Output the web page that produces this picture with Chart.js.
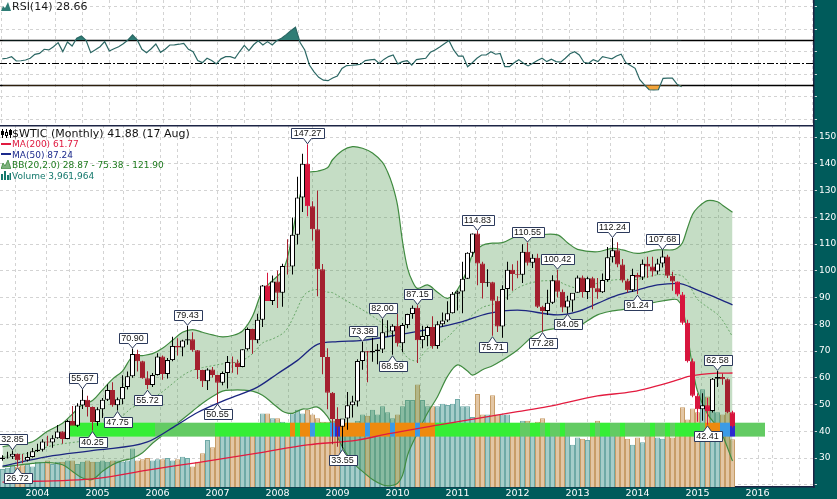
<!DOCTYPE html>
<html>
<head>
<meta charset="utf-8">
<title>$WTIC (Monthly)</title>
<script src="https://cdn.jsdelivr.net/npm/chart.js@4.4.1/dist/chart.umd.min.js"></script>
<style>
  html, body { margin:0; padding:0; background:#005b5b; }
  #wrap { position:relative; width:837px; height:499px; overflow:hidden; background:#005b5b; }
  canvas { position:absolute; left:0; display:block; }
  #rsi { top:0; }
  #main { top:125px; }
  .lg { position:absolute; font-family:"DejaVu Sans", Verdana, sans-serif; white-space:nowrap; }
  .big { font-size:11px; line-height:11px; }
  .sm { font-size:9px; line-height:10px; }
  .ic { position:absolute; display:block; }
</style>
</head>
<body>
<div id="wrap">
  <canvas id="rsi" width="837" height="125"></canvas>
  <canvas id="main" width="837" height="374"></canvas>

  <svg class="ic" style="left:1px;top:2px" width="10" height="9"><polygon points="0,9 2,4 4,6 7,0 10,9" fill="#2e7c75"/></svg>
  <div class="lg big" style="left:12px;top:1px;color:#1a1a1a">RSI(14) 28.66</div>

  <svg class="ic" style="left:1px;top:129px" width="11" height="9">
    <path d="M1.5 0V9M5.5 0V9M9.5 0V9" stroke="#000" stroke-width="1"/>
    <rect x="0" y="2" width="3" height="4" fill="#000"/>
    <rect x="4.5" y="3.5" width="2" height="3" fill="#fff" stroke="#000"/>
    <rect x="8" y="1" width="3" height="5" fill="#000"/>
  </svg>
  <div class="lg big" style="left:12px;top:128px;color:#111">$WTIC (Monthly) 41.88 (17 Aug)</div>

  <svg class="ic" style="left:1px;top:143px" width="10" height="2"><rect width="10" height="2" fill="#e01a40"/></svg>
  <div class="lg sm" style="left:12px;top:139px;color:#e01a40">MA(200) 61.77</div>

  <svg class="ic" style="left:1px;top:153px" width="10" height="2"><rect width="10" height="2" fill="#1c2a8c"/></svg>
  <div class="lg sm" style="left:12px;top:149.5px;color:#1c2a8c">MA(50) 87.24</div>

  <svg class="ic" style="left:1px;top:160px" width="10" height="9"><polygon points="0,9 2,3 4,6 7,0 10,9" fill="#7fb27f" stroke="#3f8a3f" stroke-width="0.8"/></svg>
  <div class="lg sm" style="left:12px;top:160px;color:#1d7a1d">BB(20,2.0) 28.87 - 75.38 - 121.90</div>

  <svg class="ic" style="left:1px;top:171px" width="10" height="9">
    <rect x="0" y="3" width="2" height="6" fill="#13786c"/><rect x="3" y="0" width="2" height="9" fill="#13786c"/>
    <rect x="6" y="4" width="2" height="5" fill="#13786c"/><rect x="8.5" y="2" width="1.5" height="7" fill="#13786c"/>
  </svg>
  <div class="lg sm" style="left:12px;top:170.5px;color:#13786c">Volume 3,961,964</div>
</div>

<script>
// ---------------- DATA ----------------
// monthly bars, Jun 2003 .. Aug 2015 (month offset relative to Jan 2004 = 0)
const FIRST_MONTH = -7;
const yearLabels = ['2004','2005','2006','2007','2008','2009','2010','2011','2012','2013','2014','2015','2016'];

const open = [29.6,30.2,30.5,31.6,29.2,29.1,30.4,
 32.5,33.05,36.2,35.8,37.4,39.9,37.1,43.8,42.1,49.6,51.8,49.1,
 43.45,48.2,51.75,55.4,49.7,51.97,56.5,60.6,68.9,66.2,59.8,57.3,
 61.0,67.9,61.4,66.6,71.9,71.3,73.9,74.4,70.3,62.9,58.7,63.1,
 61.05,58.1,61.8,65.9,65.7,64.0,70.7,78.2,74.0,81.7,94.5,88.7,
 95.98,91.75,101.8,101.6,113.5,127.35,140.0,124.1,115.5,100.6,67.8,54.4,
 44.6,41.7,44.8,49.7,51.1,66.3,69.9,69.45,69.96,70.6,77.0,77.3,
 79.4,72.9,79.7,83.8,86.15,74.0,75.6,78.95,71.9,79.97,81.4,84.1,
 91.4,92.2,96.97,106.7,113.9,102.7,95.4,95.7,88.8,79.2,93.2,100.4,
 98.8,98.5,107.1,103.0,104.9,86.5,84.96,88.06,96.47,92.19,86.24,88.91,
 91.82,97.49,92.05,97.23,93.46,91.97,96.56,105.03,107.65,102.33,96.38,92.72,
 98.42,97.49,102.59,101.58,99.74,102.71,105.37,98.17,95.96,91.16,80.54,66.15,
 53.27,48.24,49.76,47.6,59.63,60.3,59.47,47.12];
const high = [31.0,32.3,32.85,31.7,31.5,32.2,33.7,
 35.3,37.0,38.3,38.5,42.3,40.0,44.3,49.4,50.5,55.67,53.3,49.3,
 49.0,52.4,57.6,58.3,52.6,60.95,62.3,70.9,70.5,66.4,62.4,61.8,
 69.2,68.3,67.4,75.35,74.8,74.2,79.43,77.0,70.4,63.0,63.6,64.0,
 61.1,62.3,68.1,67.9,66.8,70.7,78.8,78.3,83.9,94.7,99.3,98.2,
 100.1,102.6,111.8,119.9,135.1,143.7,147.27,126.0,130.0,102.5,71.0,54.7,
 49.0,43.8,54.7,53.3,66.9,73.38,70.0,75.0,72.6,82.0,81.5,80.0,
 83.95,80.5,83.95,87.0,87.15,79.4,79.4,83.0,81.1,84.4,88.6,92.06,
 92.6,103.4,106.9,113.9,114.83,103.4,100.6,95.9,90.5,94.6,103.4,102.4,
 103.7,109.9,110.55,106.2,106.4,86.9,92.9,98.3,100.42,93.0,90.7,91.5,
 98.2,98.2,97.8,97.8,97.3,99.0,108.9,112.24,110.7,104.4,97.0,100.75,
 99.3,104.2,105.2,105.2,104.5,107.68,106.0,99.6,96.0,92.1,81.7,67.2,
 54.2,54.2,52.5,59.9,62.58,61.6,59.7,47.7];
const low = [29.0,29.8,29.6,26.72,28.0,28.7,30.2,
 32.2,32.4,34.5,33.8,37.2,35.3,37.0,42.3,41.6,48.3,45.5,40.25,
 42.1,45.0,51.3,49.2,47.75,50.1,55.6,60.0,62.3,59.6,55.72,56.5,
 60.8,59.3,59.7,66.2,68.3,68.0,72.3,69.7,59.5,56.55,55.4,60.1,
 50.55,57.2,56.0,61.9,61.2,63.9,70.2,69.0,72.9,79.0,88.8,87.2,
 86.1,86.5,98.6,98.6,109.8,122.0,120.4,111.3,90.5,61.3,48.2,35.1,
 34.2,33.55,40.6,45.1,49.3,63.0,58.3,66.0,65.05,69.3,75.2,68.59,
 71.7,69.5,78.5,82.1,65.5,71.0,71.8,70.8,70.8,79.1,80.8,84.0,
 85.1,84.1,96.9,105.2,94.6,89.6,94.0,75.71,77.1,74.95,89.2,92.5,
 97.2,95.4,102.0,101.0,86.1,77.28,83.5,87.6,90.0,84.5,84.05,84.7,
 91.8,90.0,89.4,85.6,89.5,91.7,95.9,103.1,101.3,95.6,91.8,92.1,
 91.24,96.5,97.4,97.9,98.6,101.2,97.3,92.5,90.5,79.8,65.7,52.7,
 43.58,43.9,42.41,47.0,56.5,57.4,46.7,41.4];
const close = [30.2,30.5,31.6,29.2,29.1,30.4,32.5,
 33.05,36.2,35.8,37.4,39.9,37.1,43.8,42.1,49.6,51.8,49.1,43.45,
 48.2,51.75,55.4,49.7,51.97,56.5,60.6,68.9,66.2,59.8,57.3,61.0,
 67.9,61.4,66.6,71.9,71.3,73.9,74.4,70.3,62.9,58.7,63.1,61.05,
 58.1,61.8,65.9,65.7,64.0,70.7,78.2,74.0,81.7,94.5,88.7,95.98,
 91.75,101.8,101.6,113.5,127.35,140.0,124.1,115.5,100.6,67.8,54.4,44.6,
 41.7,44.8,49.7,51.1,66.3,69.9,69.45,69.96,70.6,77.0,77.3,79.4,
 72.9,79.7,83.8,86.15,74.0,75.6,78.95,71.9,79.97,81.4,84.1,91.4,
 92.2,96.97,106.7,113.9,102.7,95.4,95.7,88.8,79.2,93.2,100.4,98.8,
 98.5,107.1,103.0,104.9,86.5,84.96,88.06,96.47,92.19,86.24,88.91,91.82,
 97.49,92.05,97.23,93.46,91.97,96.56,105.03,107.65,102.33,96.38,92.72,98.42,
 97.49,102.59,101.58,99.74,102.71,105.37,98.17,95.96,91.16,80.54,66.15,53.27,
 48.24,49.76,47.6,59.63,60.3,59.47,47.12,41.88];
// volume, millions
const volume = [1.5,1.6,1.8,1.7,1.8,1.9,1.7,
 2.1,2.1,2.2,1.9,2.1,2.1,2.2,2.2,1.9,2.1,2.2,2.1,
 2.1,2.2,2.1,2.2,2.2,2.1,2.2,3.2,2.2,2.3,2.4,2.2,
 2.3,2.3,2.4,2.2,2.3,2.5,2.4,1.7,2.1,2.8,3.9,3.3,
 5.3,5.0,4.9,5.2,5.0,4.8,5.3,4.9,5.1,6.1,6.1,5.7,
 5.7,5.4,5.3,6.1,6.4,6.1,6.4,6.0,5.7,5.4,5.4,5.5,
 5.4,5.3,5.0,5.3,5.5,6.0,5.9,6.4,6.0,6.7,6.2,5.7,
 6.0,6.7,7.2,7.2,8.5,7.2,6.7,6.7,6.7,6.9,6.8,6.9,
 7.3,6.7,6.7,5.8,7.7,6.0,6.0,7.6,6.0,6.0,6.0,4.6,
 5.2,5.5,5.5,5.2,5.4,5.7,4.9,4.8,4.3,5.0,4.8,3.5,
 4.1,4.0,3.9,5.0,5.5,5.0,5.3,5.0,4.8,4.5,4.0,3.5,
 4.1,3.7,4.5,4.6,4.1,4.0,4.9,4.1,4.5,6.6,5.6,6.5,
 6.2,8.1,7.5,7.2,6.2,6.0,6.2,3.96];
const crimsonMonths = [46, 54, 128, 129, 130, 131, 132, 134, 139];

// moving averages (month offset, value)
const ma50Month  = [-7,2,12,22,28,32,38,44,48,52,56,60,65,72,78,85,90,96,104,108,112,116,120,124,128,132,136,139];
const ma50Value  = [27.0,30.5,33.0,36.0,42.5,47.0,52.0,56.5,61.5,66.5,72.5,73.5,74.0,76.0,78.0,81.0,84.0,85.3,83.5,84.7,87.8,90.9,92.8,94.7,95.3,92.8,89.7,87.24];
const ma200Month = [-7,12,22,32,44,54,64,70,80,88,96,102,112,119,128,130,136,139];
const ma200Value = [21.0,22.4,25.5,28.3,31.8,34.9,36.7,39.0,42.3,44.8,47.3,49.2,53.2,54.8,59.2,60.4,61.7,61.77];

// Bollinger bands (20, 2.0)
const bbMonth = [-7,-4,-1,2,5,7,9,11,13,15,17,19,21,23,25,27,29,31,33,35,37,39,41,43,45,47,49,50,51,52,53,54,56,58,59,61,63,65,67,69,70,71,72,73,74,75,76,78,80,82,84,86,87,89,91,93,96,100,104,106,108,112,115,117,120,124,127,128,129,130,131,132,134,136,137,139];
const bbUpper = [34.2,35.2,36.1,40.0,43.0, 46.5,50.0,51.5,55.5,59.5, 62.5,67.9,68.3,69.0,71.0, 74.0,77.0,78.0,77.0,76.0,
 75.3,75.8,77.5,83.0,92.5, 96.3,100.0,105.0,114.0,124.0, 131.5,136.5,137.2,138.5,141.5, 145.0,146.4,145.8,144.0,140.5,
 137.0,132.0,124.5,111.0,101.0, 96.0,93.4,94.7,92.0,89.7, 93.0,100.5,106.0,109.5,110.3, 110.5,113.0,113.4,113.4,110.5,
 108.0,107.1,108.4,107.8,106.5, 107.8,107.8,108.5,110.5,116.0, 121.0,123.5,126.2,125.8,124.5, 121.9];
const bbMiddle = [30.5,31.3,32.1,34.2,35.3, 35.8,36.3,36.8,40.3,43.5, 45.8,48.9,50.2,52.3,54.8, 57.8,60.8,62.8,63.8,64.5,
 65.2,65.6,66.5,69.0,73.0, 74.5,76.5,78.5,82.0,86.0, 89.9,92.0,93.0,92.0,91.8, 89.6,87.5,85.4,83.0,80.3,
 78.3,76.0,73.5,70.0,67.5, 66.5,66.4,70.8,72.5,75.1, 78.9,81.5,83.5,86.3,87.4, 88.6,93.5,96.0,96.0,94.5,
 93.6,95.3,96.5,96.7,96.8, 98.5,98.6,98.5,98.0,96.0, 92.5,89.3,86.4,83.7,81.5, 75.38];
const bbLower = [26.7,27.3,28.0,28.3,27.5, 25.0,22.5,22.0,25.0,27.5, 29.0,29.9,32.0,35.5,38.5, 41.5,44.5,47.5,50.5,53.0,
 55.0,55.4,55.4,55.0,53.5, 50.5,47.5,46.8,46.7,47.5, 48.3,48.3,49.0,45.5,42.0, 34.1,28.5,25.0,22.0,20.0,
 19.6,19.8,20.5,23.5,31.0, 35.5,39.3,46.8,52.9,60.5, 64.8,62.5,61.0,63.0,64.5, 66.6,70.4,76.7,78.5,78.5,
 79.1,83.5,85.0,85.5,86.6, 88.4,89.3,89.1,86.0,76.0, 64.0,55.0,46.5,41.5,38.5, 28.87];

// coloured band at 38.0 - 43.2 (one code per month from FIRST_MONTH): G bright, M medium, O orange, B blue, D dark blue
const stripLow = 38.0, stripHigh = 43.2;
const stripCodes = '.'.repeat(14) + 'G'.repeat(17) + 'M'.repeat(12) + 'G'.repeat(15) + 'OGOOB' + 'GGG' + 'BD' +
  'OOOOO' + 'B' + 'OOOO' + 'B' + 'OOOO' + 'B' + 'OOO' + 'G'.repeat(16) +
  'GMMGGMGMMG' + 'MMMMMGMGGM' + 'MGMMMMMGMM' + 'GMGGGGGMOO' + 'OBBD' + 'M'.repeat(6);

// high / low callouts
const annMonth = [-5,-4,9,11,16,19,22,30,36,54,61,65,69,71,76,88,91,98,101,104,106,115,120,125,134,136];
const annValue = [32.85,26.72,55.67,40.25,47.75,70.90,55.72,79.43,50.55,147.27,33.55,73.38,82.00,68.59,87.15,114.83,75.71,110.55,77.28,100.42,84.05,112.24,91.24,107.68,42.41,62.58];
const annSide  = ['h','l','h','l','l','h','l','h','l','h','l','h','h','l','h','h','l','h','l','h','l','h','l','h','l','h'];

// RSI(14), one value per month
const rsi = [53.5,54,55.4,51.6,51.8,52.5,54,57.5,58.4,62, 61.4,64.3,67.9,59.9,68.5,64.9,71.8,73.8,70,59,
 61.5,64.3,68.8,60.5,62.5,64.3,67,70.3,74.7,70.3, 62,59,62.5,66.7,59.3,62,65.8,66,66.5,67.3,
 62,59.9,52,50.1,54,52,49,53.5,55.4,55.4, 54,60,65.5,60.8,66,69.5,65.8,68.8,65.8,69.7,
 71.8,75,78.5,81.5,68,61.4,48,42,37.1,34.5, 34.1,36.5,38.3,45,47.5,47.8,48.2,48.7,51.9,52.5,
 53.1,49.5,53,55.5,56.9,49,51,51.9,48,52.8, 53.5,54,59.3,61.4,64,67,69.7,61.4,56,56,
 46.5,50,54,56.9,56.9,59.9,57.6,58.3,46.5,46.5, 50,52.8,49.5,47.2,49.5,52,54,51,53.1,51,
 50.5,54,58,59.9,56.9,50.5,49.5,52.8,51,55.4, 54.5,53.5,56,57.6,50.1,47.5,45.1,35,30.3,26,
 25.8,26,36.2,36.4,36.4,31,28.66];
const rsiLevels = [70, 50, 30];
const rsiTicks = [0,10,20,30,40,50,60,70,80,90,100];
const rsiTickLabels = [10,30,50,70,90];
const priceTicks = [20,30,40,50,60,70,80,90,100,110,120,130,140,150];
const priceTickLabels = [30,40,50,60,70,80,90,100,110,120,130,140,150];

// ---------------- LAYOUT / STYLE ----------------
Chart.defaults.font.family = '"DejaVu Sans", Verdana, sans-serif';
const GRID_COLOR = '#d3d3d3';
const AXIS_COLOR = '#1c2445';
const PLOT_W = 814;
const GRID_PX0 = 1.2, GRID_PX_STEP = 27.05;
const xMin = -7.5, xMax = 155.3, yMin = 19.16, yMax = 154.49;
const rsiXMin = -0.494, rsiXMax = 174.44, rsiYMin = -5.3, rsiYMax = 105.8;

function gridVals(min, max) {
  const out = [];
  for (let k = 0; GRID_PX0 + k * GRID_PX_STEP < PLOT_W; k++) {
    const p = Math.floor(GRID_PX0 + k * GRID_PX_STEP) + 0.5;
    out.push(min + p * (max - min) / PLOT_W);
  }
  return out;
}
function noPad(s) { s.paddingTop = 0; s.paddingBottom = 0; s.paddingLeft = 0; s.paddingRight = 0; }
const mOf = i => i + FIRST_MONTH;
const isUp = i => close[i] >= open[i];
const downColor = i => crimsonMonths.includes(mOf(i)) ? '#d7153d' : '#a3202e';
const volUp = i => close[i] >= (i ? close[i - 1] : open[i]);
const stripColors = { G:'#36ee36', M:'#63cb63', O:'#ee8a0e', B:'#3b9be6', D:'#2b2bd0' };

const stripData = [];
for (let k = 0; k < stripCodes.length; k++) {
  const c = stripCodes[k];
  if (c !== '.') stripData.push({ x: k + FIRST_MONTH, y: [stripLow, stripHigh], c });
}

const whiteArea = {
  id: 'whiteArea',
  beforeDraw(chart) {
    const { ctx, chartArea: a } = chart;
    ctx.save(); ctx.fillStyle = '#ffffff';
    ctx.fillRect(a.left, a.top, a.right - a.left, a.bottom - a.top);
    ctx.restore();
  }
};

const topRule = {
  id: 'topRule',
  afterDraw(chart) {
    const { ctx, chartArea: a } = chart;
    ctx.save(); ctx.fillStyle = AXIS_COLOR;
    ctx.fillRect(a.left, a.top, a.right - a.left, 1.5);
    ctx.restore();
  }
};

const callouts = {
  id: 'callouts',
  afterDatasetsDraw(chart) {
    const { ctx } = chart; const x = chart.scales.x, y = chart.scales.y;
    ctx.save();
    ctx.font = '9px "Liberation Sans", Arial, sans-serif';
    ctx.textAlign = 'center'; ctx.textBaseline = 'middle';
    annMonth.forEach((m, k) => {
      const txt = annValue[k].toFixed(2);
      const px = Math.round(x.getPixelForValue(m) - 0.5) + 0.5;
      const py = y.getPixelForValue(annValue[k]);
      const w = Math.ceil(ctx.measureText(txt).width) + 5, h = 10;
      const L = Math.round(px - w / 2) + 0.5, R = L + w;
      ctx.beginPath();
      let T, B;
      if (annSide[k] === 'h') {
        B = Math.round(py - 6) + 0.5; T = B - h;
        ctx.moveTo(L, T); ctx.lineTo(R, T); ctx.lineTo(R, B); ctx.lineTo(px + 4, B);
        ctx.lineTo(px, py - 0.5); ctx.lineTo(px - 4, B); ctx.lineTo(L, B); ctx.closePath();
      } else {
        T = Math.round(py + 6) + 0.5; B = T + h;
        ctx.moveTo(L, T); ctx.lineTo(px - 4, T); ctx.lineTo(px, py + 1); ctx.lineTo(px + 4, T);
        ctx.lineTo(R, T); ctx.lineTo(R, B); ctx.lineTo(L, B); ctx.closePath();
      }
      ctx.fillStyle = '#ffffff'; ctx.fill();
      ctx.strokeStyle = '#2c3a5c'; ctx.lineWidth = 1; ctx.stroke();
      ctx.fillStyle = '#111'; ctx.fillText(txt, px, (T + B) / 2 + 0.5);
    });
    ctx.restore();
  }
};

const rsiRules = {
  id: 'rsiRules',
  beforeDatasetsDraw(chart) {
    const { ctx, chartArea: a } = chart; const y = chart.scales.y;
    ctx.save();
    rsiLevels.forEach(v => {
      const py = Math.round(y.getPixelForValue(v)) + 0.5;
      ctx.beginPath();
      ctx.setLineDash(v === 50 ? [7, 2, 2, 2] : []);
      ctx.lineWidth = v === 50 ? 1 : 1.4;
      ctx.strokeStyle = '#000';
      ctx.moveTo(a.left, py); ctx.lineTo(a.right, py); ctx.stroke();
    });
    ctx.restore();
  }
};

// ---------------- RSI PANEL ----------------
const rsiPts = rsi.map((v, i) => ({ x: i, y: v }));
new Chart(document.getElementById('rsi'), {
  type: 'line',
  data: { datasets: [
    { data: rsiPts, borderColor: '#2b6764', borderWidth: 1.2, pointRadius: 0, tension: 0,
      fill: { target: { value: 70 }, above: '#2f7d76', below: 'rgba(0,0,0,0)' }, order: 1 },
    { data: rsiPts, borderColor: 'rgba(0,0,0,0)', borderWidth: 0, pointRadius: 0, tension: 0,
      fill: { target: { value: 30 }, above: 'rgba(0,0,0,0)', below: '#f3a43a' }, order: 2 }
  ]},
  options: {
    responsive: false, animation: false, devicePixelRatio: 1,
    layout: { padding: 0, autoPadding: false },
    plugins: { legend: { display: false }, tooltip: { enabled: false } },
    scales: {
      x: { type: 'linear', min: rsiXMin, max: rsiXMax, offset: false,
        afterBuildTicks: s => { s.ticks = gridVals(rsiXMin, rsiXMax).map(v => ({ value: v })); },
        afterFit: s => { s.height = 0; noPad(s); },
        ticks: { display: false },
        grid: { color: GRID_COLOR, drawTicks: false },
        border: { display: false, dash: [3, 3] } },
      y: { type: 'linear', position: 'right', min: rsiYMin, max: rsiYMax,
        afterBuildTicks: s => { s.ticks = rsiTicks.map(v => ({ value: v })); },
        afterFit: s => { s.width = 23; noPad(s); },
        ticks: { color: '#ffffff', font: { size: 9 }, padding: 2,
          callback: v => rsiTickLabels.includes(v) ? String(v) : '' },
        grid: { color: GRID_COLOR, drawTicks: true, tickLength: 3, tickColor: '#c9d6d6' },
        border: { display: true, color: AXIS_COLOR, width: 1.5, dash: [3, 3] } }
    }
  },
  plugins: [whiteArea, rsiRules]
});

// ---------------- PRICE PANEL ----------------
new Chart(document.getElementById('main'), {
  type: 'bar',
  data: { datasets: [
    { type: 'bar', label: 'body', data: close.map((c, i) => ({ x: mOf(i), y: [open[i], c] })),
      backgroundColor: close.map((c, i) => isUp(i) ? '#ffffff' : downColor(i)),
      borderColor: close.map((c, i) => isUp(i) ? '#000000' : downColor(i)),
      borderWidth: 1, borderSkipped: false, barThickness: 5, grouped: false, inflateAmount: 0, order: 1 },
    { type: 'bar', label: 'wick', data: low.map((l, i) => ({ x: mOf(i), y: [l, high[i]] })),
      backgroundColor: low.map((l, i) => isUp(i) ? '#000000' : downColor(i)),
      borderWidth: 0, barThickness: 1, grouped: false, inflateAmount: 0, order: 2 },
    { type: 'line', label: 'MA(50)', data: ma50Month.map((m, k) => ({ x: m, y: ma50Value[k] })),
      borderColor: '#1b2580', borderWidth: 1.3, pointRadius: 0, cubicInterpolationMode: 'monotone', order: 3 },
    { type: 'line', label: 'MA(200)', data: ma200Month.map((m, k) => ({ x: m, y: ma200Value[k] })),
      borderColor: '#e31b3f', borderWidth: 1.3, pointRadius: 0, cubicInterpolationMode: 'monotone', order: 3 },
    { type: 'bar', label: 'band', data: stripData,
      backgroundColor: stripData.map(d => stripColors[d.c]), borderWidth: 0,
      barThickness: 5, grouped: false, inflateAmount: 0, order: 5 },
    { type: 'line', label: 'BB upper', data: bbMonth.map((m, k) => ({ x: m, y: bbUpper[k] })),
      borderColor: '#3f8a3f', borderWidth: 1.2, pointRadius: 0, tension: 0.35,
      fill: '+1', backgroundColor: 'rgba(76,150,76,0.32)', order: 7 },
    { type: 'line', label: 'BB lower', data: bbMonth.map((m, k) => ({ x: m, y: bbLower[k] })),
      borderColor: '#3f8a3f', borderWidth: 1.2, pointRadius: 0, tension: 0.35, fill: false, order: 7 },
    { type: 'line', label: 'BB middle', data: bbMonth.map((m, k) => ({ x: m, y: bbMiddle[k] })),
      borderColor: '#6aa86a', borderWidth: 1, borderDash: [2, 2], pointRadius: 0, tension: 0.35, fill: false, order: 6 },
    { type: 'bar', label: 'Volume', yAxisID: 'yv', data: volume.map((v, i) => ({ x: mOf(i), y: v })),
      backgroundColor: volume.map((v, i) => volUp(i) ? '#a6cdca' : '#e3c6a4'),
      borderColor: volume.map((v, i) => volUp(i) ? '#6fa9a6' : '#c79d68'),
      borderWidth: 1, barThickness: 5, grouped: false, inflateAmount: 0, order: 10 }
  ]},
  options: {
    responsive: false, animation: false, devicePixelRatio: 1,
    layout: { padding: 0, autoPadding: false },
    plugins: { legend: { display: false }, tooltip: { enabled: false } },
    scales: {
      x: { type: 'linear', min: xMin, max: xMax, offset: false, position: 'bottom',
        afterBuildTicks: s => {
          const t = yearLabels.map((l, k) => ({ value: k * 12, yr: l }));
          gridVals(xMin, xMax).forEach(v => t.push({ value: v }));
          t.sort((a, b) => a.value - b.value);
          s.ticks = t;
        },
        afterFit: s => { s.height = 12; noPad(s); },
        ticks: { autoSkip: false, maxRotation: 0, minRotation: 0, color: '#ffffff', font: { size: 9.5 }, padding: 1,
          callback: (v, i, t) => (t[i] && t[i].yr) ? t[i].yr : '' },
        grid: { color: c => (c.tick && c.tick.yr) ? 'rgba(0,0,0,0)' : GRID_COLOR, drawTicks: false },
        border: { display: true, color: AXIS_COLOR, width: 1.5, dash: [3, 3] } },
      y: { type: 'linear', position: 'right', min: yMin, max: yMax,
        afterBuildTicks: s => { s.ticks = priceTicks.map(v => ({ value: v })); },
        afterFit: s => { s.width = 23; noPad(s); },
        ticks: { color: '#ffffff', font: { size: 9 }, padding: 2,
          callback: v => priceTickLabels.includes(v) ? String(v) : '' },
        grid: { color: GRID_COLOR, drawTicks: true, tickLength: 3, tickColor: '#c9d6d6' },
        border: { display: true, color: AXIS_COLOR, width: 1.5, dash: [3, 3] } },
      yv: { type: 'linear', display: false, min: 0, max: 30 }
    }
  },
  plugins: [whiteArea, callouts, topRule]
});
</script>
</body>
</html>
